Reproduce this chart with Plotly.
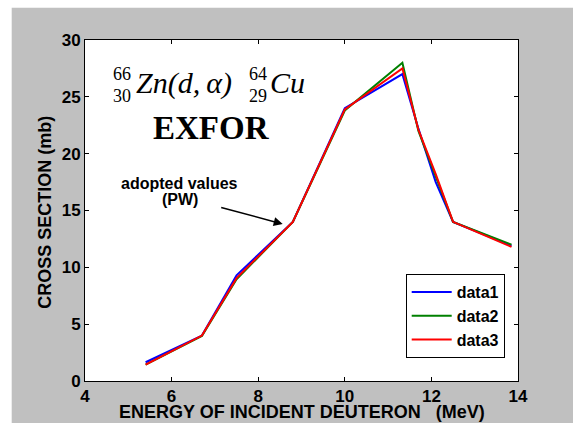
import plotly.graph_objects as go

# Deuteron energy (MeV) and cross sections (mb) for 66Zn(d,a)64Cu
energy = [5.4, 6.7, 7.5, 8.8, 10.0, 11.33, 11.7, 12.1, 12.5, 13.85]
data1 = [1.65, 4.0, 9.3, 14.0, 24.0, 27.0, 22.2, 17.5, 14.0, 11.9]
data2 = [1.45, 3.95, 8.95, 14.0, 23.8, 28.0, 22.0, 18.0, 14.0, 12.0]
data3 = [1.45, 4.0, 9.05, 14.0, 23.9, 27.5, 22.1, 18.2, 14.0, 11.8]

series = [("data1", data1, "#0000ff"), ("data2", data2, "#008000"), ("data3", data3, "#ff0000")]

x_ticks = [4, 6, 8, 10, 12, 14]
y_ticks = [0, 5, 10, 15, 20, 25, 30]

W, H = 573, 423
L, R, T, B = 85.3, 518.3, 40.3, 380.7
SANS = "Liberation Sans, Arial, sans-serif"
SERIF = "Liberation Serif, Times New Roman, serif"


def px(xp):
    return (xp - L) / (R - L)


def py(yp):
    return (B - yp) / (B - T)


fig = go.Figure()
for name, vals, color in series:
    fig.add_trace(go.Scatter(x=energy, y=vals, mode="lines", name=f"<b>{name}</b>",
                             line=dict(color=color, width=2)))

axis_common = dict(showline=True, linecolor="black", linewidth=1, mirror="allticks",
                   ticks="inside", ticklen=4, tickcolor="black", showgrid=False,
                   zeroline=False, automargin=False,
                   tickfont=dict(family=SANS, size=17, color="black"))

fig.update_xaxes(range=[4, 14], tickvals=x_ticks, ticktext=[f"<b>{v}</b>" for v in x_ticks],
                 ticklabelstandoff=0, **axis_common)
fig.update_yaxes(range=[0, 30], tickvals=y_ticks, ticktext=[f"<b>{v}</b>" for v in y_ticks],
                 **axis_common)

ann = []


def txt(x, y, s, size, xanchor="center", family=SERIF, angle=0):
    ann.append(dict(x=px(x), y=py(y), xref="paper", yref="paper", text=s, showarrow=False,
                    xanchor=xanchor, yanchor="middle", textangle=angle,
                    font=dict(family=family, size=size, color="black")))


# axis titles
txt(301.8, 412, "<b>ENERGY OF INCIDENT DEUTERON   (MeV)</b>", 18, family=SANS)
txt(45, 212, "<b>CROSS SECTION (mb)</b>", 18, family=SANS, angle=-90)

# reaction formula with stacked mass / atomic numbers
txt(122, 74, "66", 18)
txt(122, 96, "30", 18)
txt(134, 83, "<i>Zn(d,\u2009α)</i>", 30, xanchor="left")
txt(258, 74, "64", 18)
txt(258, 96, "29", 18)
txt(268, 83, "<i>Cu</i>", 30, xanchor="left")
txt(212, 128, "<b>EXFOR</b>", 33)
txt(180, 184, "<b>adopted values</b>", 16, family=SANS)
txt(180, 200, "<b>(PW)</b>", 16, family=SANS)

# arrow pointing at the adopted curve
ann.append(dict(x=px(283), y=py(224), xref="paper", yref="paper", ax=220 - 283, ay=207 - 224,
                text="", showarrow=True, arrowhead=2, arrowsize=1.2, arrowwidth=1.5,
                arrowcolor="black"))

shapes = [
    dict(type="rect", xref="paper", yref="paper", x0=px(-20), x1=px(W + 20), y0=py(8), y1=py(-20),
         fillcolor="white", line=dict(width=0), layer="below"),
    dict(type="rect", xref="paper", yref="paper", x0=px(-20), x1=px(12), y0=py(H + 20), y1=py(-20),
         fillcolor="white", line=dict(width=0), layer="below"),
]

fig.update_layout(
    width=W, height=H,
    margin=dict(l=L, r=W - R, t=T, b=H - B, pad=0, autoexpand=False),
    paper_bgcolor="#c0c0c0", plot_bgcolor="white",
    annotations=ann, shapes=shapes,
    legend=dict(x=px(406), y=py(274), xanchor="left", yanchor="top",
                bgcolor="white", bordercolor="black", borderwidth=1,
                font=dict(family=SANS, size=16, color="black"),
                tracegroupgap=0, itemwidth=40),
    showlegend=True,
)

fig.write_html("out.html")
